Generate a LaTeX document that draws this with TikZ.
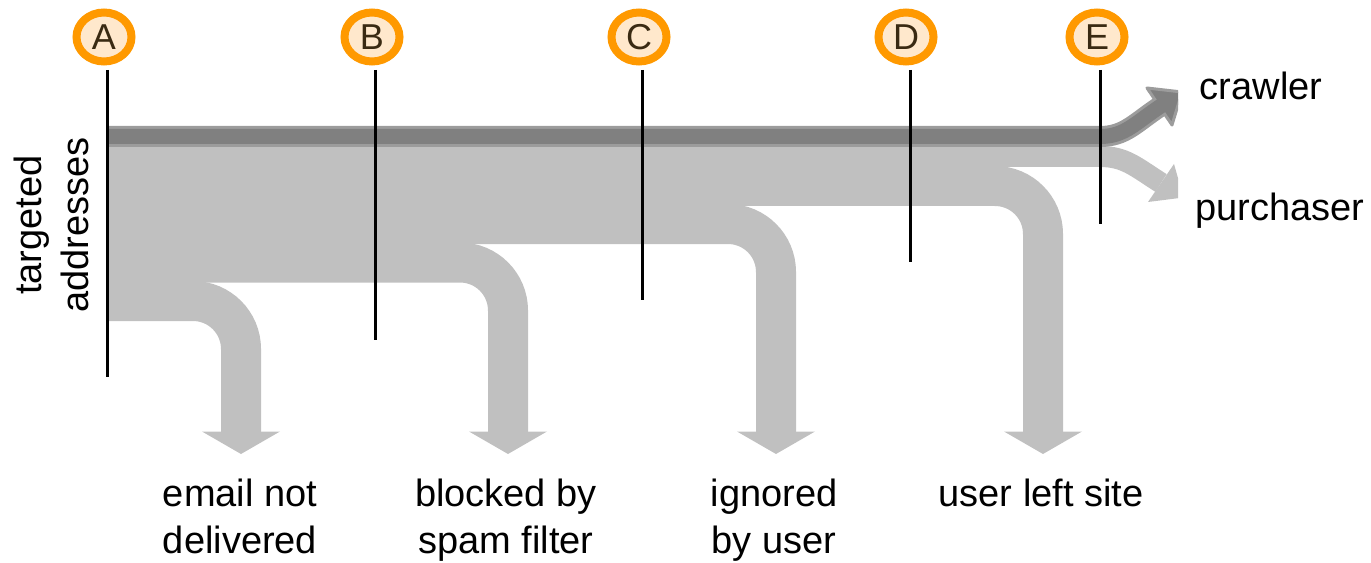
\documentclass[tikz,border=0pt]{standalone}
\usepackage{fontspec}
\setmainfont{Liberation Sans}
\usetikzlibrary{shapes.geometric}
\definecolor{flowlight}{HTML}{C0C0C0}
\definecolor{flowdark}{HTML}{808080}
\definecolor{flowdarkedge}{HTML}{9C9C9C}
\definecolor{ringorange}{HTML}{FF9900}
\definecolor{ringfill}{HTML}{FFE8CC}
\definecolor{ringtext}{HTML}{3A2A12}

\begin{document}
\begin{tikzpicture}[x=0.75pt,y=-0.75pt,
  stage/.style={ellipse, draw=ringorange, fill=ringfill, line width=6pt,
    minimum width=41.25pt, minimum height=36.75pt, inner sep=0pt,
    text=ringtext, font=\fontsize{27pt}{30pt}\selectfont},
  marker/.style={draw=black, line width=2.25pt},
  branchband/.style={draw=flowlight, line width=30pt, rounded corners=36pt},
  lightband/.style={draw=flowlight, line width=15.75pt},
  darkouter/.style={draw=flowdarkedge, line width=15.75pt},
  darkinner/.style={draw=flowdark, line width=11.25pt},
  lighthead/.style={fill=flowlight},
  darkhead/.style={fill=flowdark, draw=flowdarkedge, line width=2.25pt, line join=round},
  label/.style={font=\fontsize{28.5pt}{35.25pt}\selectfont, align=center, inner sep=0pt}
]
\useasboundingbox (0,0) rectangle (1371,563);

% sources and ends of the outgoing branches
\coordinate (src1) at (108,301);   \coordinate (end1) at (241,432);
\coordinate (src2) at (108,262.5); \coordinate (end2) at (508,432);
\coordinate (src3) at (108,224);   \coordinate (end3) at (776,432);
\coordinate (src4) at (108,186);   \coordinate (end4) at (1043,432);

% branches that leave the flow downwards
\foreach \i in {1,...,4}{
  \draw[branchband] (src\i) -| (end\i);
  \fill[lighthead] (end\i) ++(-39,-0.5) -- ++(78,0) -- ++(-39,22.5) -- cycle;
}

% purchaser and crawler streams running to the right
\coordinate (srcP) at (108,156.5); \coordinate (forkP) at (1100,156.5);
\coordinate (tipP) at (1161,183);
\coordinate (srcC) at (108,136.5); \coordinate (forkC) at (1100,136.5);
\coordinate (tipC) at (1160,106.5);

\begin{scope}
  \clip (0,0) rectangle (1178,563);
  \draw[lightband] (srcP) -- (forkP) .. controls (1125,156.5) and (1135,166.5) .. (tipP);
  \fill[lighthead] (1174,164) -- (1183.5,197.5) -- (1148,202) -- cycle;
  \draw[darkouter] (srcC) -- (forkC) .. controls (1125,136.5) and (1135,123) .. (tipC);
  \filldraw[darkhead] (1147,88) -- (1182,92) -- (1172,125) -- cycle;
  \draw[darkinner] (srcC) -- (forkC) .. controls (1125,136.5) and (1135,123) .. ([shift={(2,-1.3)}]tipC);
\end{scope}

% stage markers
\node[stage] (cA) at (104,37) {A};
\node[stage] (cB) at (372,37) {B};
\node[stage] (cC) at (639,37) {C};
\node[stage] (cD) at (906,37) {D};
\node[stage] (cE) at (1097,37) {E};

\coordinate (tA) at (107,70);  \coordinate (bA) at (107,377);
\coordinate (tB) at (375,70);  \coordinate (bB) at (375,340);
\coordinate (tC) at (642,70);  \coordinate (bC) at (642,300);
\coordinate (tD) at (910,70);  \coordinate (bD) at (910,262);
\coordinate (tE) at (1100,70); \coordinate (bE) at (1100,224);
\foreach \s in {A,B,C,D,E}{ \draw[marker] (t\s) -- (b\s); }

% labels
\node[label, rotate=90] (lsrc) at (51,225) {targeted\\addresses};
\node[label, anchor=base] (lcrawl) at (1261,100) {crawler};
\node[label, anchor=base] (lpurch) at (1280,220) {purchaser};
\node[label, anchor=north] (l1) at (240,479) {email not\\delivered};
\node[label, anchor=north] (l2) at (506,479) {blocked by\\spam filter};
\node[label, anchor=north] (l3) at (774,479) {ignored\\by user};
\node[label, anchor=north] (l4) at (1041,479) {user left site};
\end{tikzpicture}
\end{document}
